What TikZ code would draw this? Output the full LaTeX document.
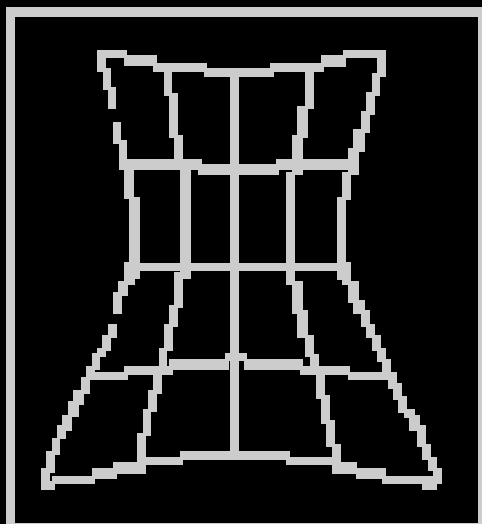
\documentclass[tikz,border=0pt]{standalone}
\usepackage{xcolor}
\definecolor{wiregrey}{HTML}{CCCCCC}
\tikzset {
  wire/.style={fill=wiregrey,draw=wiregrey,line width=.7pt},
  framebar/.style={fill=wiregrey,draw=none},
}
\newcommand{\wireblocks}[1]{%
  \foreach \xa/\ya/\xb/\yb in {#1} {
    \path[wire] (\xa,\ya) rectangle (\xb,\yb);
  }%
}

\begin{document}
\begin{tikzpicture}[x=1pt,y=-1pt]
          \useasboundingbox (0,0) rectangle (482,524);
          \fill[black] (0,0) rectangle (482,524);
          \path[framebar] (6,7.5) rectangle (482,524);
          \fill[black] (14.5,17.5) rectangle (477.7,522.8);
          % rows, top to bottom
          \wireblocks{97/50/126/57, 124/55/156/65, 153/63/206/71, 204/68/273/76,
            270/63/323/71, 321/55/345/66, 343/50/385/57}
          \wireblocks{119/159/201/169, 198/164/278/174, 276/159/356/169}
          \wireblocks{124/263/349/270.5}
          \wireblocks{86/372/127/379, 124/366/172/374, 169/359/228/369, 225/353/246/360,
            244/359/302/369, 300/366/349/374, 348/372/388/379}
          \wireblocks{52/476/94/483, 92/468/116/478, 113/462/145/473, 143/457/182/464,
            180/451/289/459, 286/457/334/464, 332/462/356/473, 356/468/385/478, 382/476/425/483}
          % centre column
          \wireblocks{230/68/238/455}
          % left edge
          \wireblocks{97/50/105/71, 103/68/110/89, 108/87/115/108,
            113/122/120/143, 119/140/126/168, 124/168/133/198, 129/197/139/264,
            124/262/139/278, 124/278/134/284, 118/281/127/295, 113/292/121/313,
            108/324/116/337, 102/335/110/350, 97/348/105/356, 92/353/99/369,
            86/366/94/379, 81/377/89/393, 73/390/83/404, 68/401/78/416,
            62/415/71/430, 57/425/65/438, 52/438/59/454, 46/451/54/472,
            41/468/49/489, 41/481/54/489}
          % second column
          \wireblocks{164/68/171/95, 169/93/177/137, 174/135/182/160, 180/160/190/278,
            174/272/182/307, 169/305/177/326, 164/324/172/350, 159/348/166/372,
            153/370/161/393, 148/390/156/411, 143/409/150/435, 137/433/145/473}
          % fourth column
          \wireblocks{305/68/313/108, 297/106/307/137, 292/135/302/174, 286/172/294/284,
            292/281/302/313, 297/310/307/337, 305/335/313/356, 310/354/318/374,
            316/372/324/398, 321/395/329/423, 326/420/334/446, 332/444/340/473}
          % right edge
          \wireblocks{377/50/385/76, 372/73/379/95, 366/92/374/114, 361/111/369/132,
            353/129/364/151, 348/148/358/174, 342/172/350/199, 337/197/345/264,
            337/262/350/279, 342/274/350/284, 348/281/358/302, 353/300/364/313,
            361/310/369/326, 366/324/374/337, 372/335/380/350, 377/348/385/361,
            382/359/390/374, 388/372/396/388, 393/383/401/399, 398/396/406/412,
            404/409/414/417, 409/415/419/430, 417/425/425/446, 422/444/430/459,
            428/457/436/470, 433/468/441/483, 422/481/436/489, 424/476/441/483}
        \end{tikzpicture}
\end{document}
